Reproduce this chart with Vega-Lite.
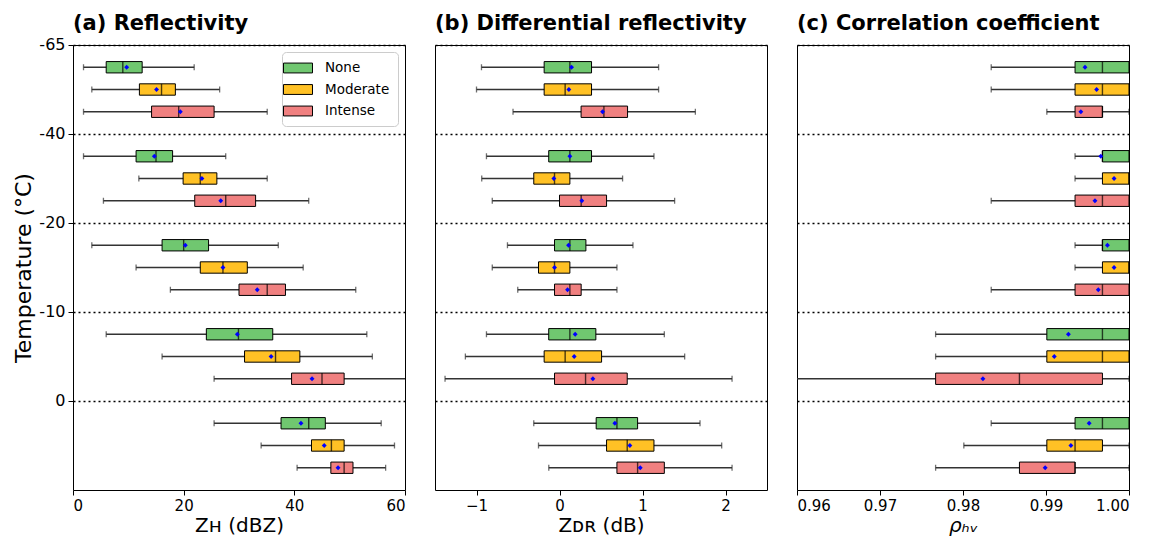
{
  "$schema": "https://vega.github.io/schema/vega-lite/v6.json",
  "padding": {"left": 12, "top": 12, "right": 13, "bottom": 3},
  "config": {
    "font": "DejaVu Sans",
    "view": {"stroke": "black", "strokeWidth": 1},
    "title": {"anchor": "start", "frame": "group", "fontSize": 21, "fontWeight": "bold", "offset": 11, "color": "black"},
    "axis": {"labelFontSize": 15, "titleFontSize": 20, "titleFontWeight": "normal", "labelColor": "black", "titleColor": "black", "tickColor": "black", "tickSize": 5, "domain": false, "labelPadding": 3},
    "axisX": {"titlePadding": 2}
  },
  "datasets": {
    "boxes": [
      {"temp": "-65", "cls": "None", "zh_lo": 1.9, "zh_q1": 6.0, "zh_med": 9.0, "zh_q3": 12.5, "zh_hi": 21.9, "zh_mean": 9.7, "zdr_lo": -0.94, "zdr_q1": -0.185, "zdr_med": 0.125, "zdr_q3": 0.386, "zdr_hi": 1.194, "zdr_mean": 0.145, "rho_lo": 0.9834, "rho_q1": 0.9935, "rho_med": 0.9968, "rho_q3": 1.0, "rho_hi": 1.0, "rho_mean": 0.9947},
      {"temp": "-65", "cls": "Moderate", "zh_lo": 3.4, "zh_q1": 12.0, "zh_med": 16.0, "zh_q3": 18.5, "zh_hi": 26.5, "zh_mean": 15.1, "zdr_lo": -1.0, "zdr_q1": -0.185, "zdr_med": 0.068, "zdr_q3": 0.386, "zdr_hi": 1.194, "zdr_mean": 0.113, "rho_lo": 0.9834, "rho_q1": 0.9935, "rho_med": 0.9968, "rho_q3": 1.0, "rho_hi": 1.0, "rho_mean": 0.9961},
      {"temp": "-65", "cls": "Intense", "zh_lo": 1.9, "zh_q1": 14.2, "zh_med": 19.1, "zh_q3": 25.5, "zh_hi": 35.1, "zh_mean": 19.4, "zdr_lo": -0.56, "zdr_q1": 0.26, "zdr_med": 0.535, "zdr_q3": 0.82, "zdr_hi": 1.637, "zdr_mean": 0.519, "rho_lo": 0.9901, "rho_q1": 0.9935, "rho_med": 0.9968, "rho_q3": 0.9968, "rho_hi": 1.0, "rho_mean": 0.9942},
      {"temp": "-40", "cls": "None", "zh_lo": 1.9, "zh_q1": 11.4, "zh_med": 15.0, "zh_q3": 18.0, "zh_hi": 27.6, "zh_mean": 14.7, "zdr_lo": -0.88, "zdr_q1": -0.13, "zdr_med": 0.125, "zdr_q3": 0.386, "zdr_hi": 1.138, "zdr_mean": 0.125, "rho_lo": 0.9935, "rho_q1": 0.9968, "rho_med": 0.9968, "rho_q3": 1.0, "rho_hi": 1.0, "rho_mean": 0.9966},
      {"temp": "-40", "cls": "Moderate", "zh_lo": 11.9, "zh_q1": 19.9, "zh_med": 23.0, "zh_q3": 26.0, "zh_hi": 35.1, "zh_mean": 23.3, "zdr_lo": -0.937, "zdr_q1": -0.31, "zdr_med": -0.06, "zdr_q3": 0.125, "zdr_hi": 0.76, "zdr_mean": -0.068, "rho_lo": 0.9935, "rho_q1": 0.9968, "rho_med": 1.0, "rho_q3": 1.0, "rho_hi": 1.0, "rho_mean": 0.9982},
      {"temp": "-40", "cls": "Intense", "zh_lo": 5.5, "zh_q1": 22.0, "zh_med": 27.6, "zh_q3": 33.0, "zh_hi": 42.6, "zh_mean": 26.7, "zdr_lo": -0.81, "zdr_q1": 0.0, "zdr_med": 0.261, "zdr_q3": 0.567, "zdr_hi": 1.387, "zdr_mean": 0.269, "rho_lo": 0.9834, "rho_q1": 0.9935, "rho_med": 0.9968, "rho_q3": 1.0, "rho_hi": 1.0, "rho_mean": 0.9959},
      {"temp": "-20", "cls": "None", "zh_lo": 3.4, "zh_q1": 16.1, "zh_med": 20.0, "zh_q3": 24.5, "zh_hi": 37.1, "zh_mean": 20.3, "zdr_lo": -0.627, "zdr_q1": -0.06, "zdr_med": 0.125, "zdr_q3": 0.318, "zdr_hi": 0.885, "zdr_mean": 0.109, "rho_lo": 0.9935, "rho_q1": 0.9968, "rho_med": 0.9968, "rho_q3": 1.0, "rho_hi": 1.0, "rho_mean": 0.9974},
      {"temp": "-20", "cls": "Moderate", "zh_lo": 11.4, "zh_q1": 23.0, "zh_med": 27.1, "zh_q3": 31.5, "zh_hi": 41.6, "zh_mean": 27.1, "zdr_lo": -0.81, "zdr_q1": -0.253, "zdr_med": -0.06, "zdr_q3": 0.125, "zdr_hi": 0.692, "zdr_mean": -0.06, "rho_lo": 0.9935, "rho_q1": 0.9968, "rho_med": 1.0, "rho_q3": 1.0, "rho_hi": 1.0, "rho_mean": 0.9982},
      {"temp": "-20", "cls": "Intense", "zh_lo": 17.6, "zh_q1": 30.0, "zh_med": 35.1, "zh_q3": 38.4, "zh_hi": 51.1, "zh_mean": 33.3, "zdr_lo": -0.503, "zdr_q1": -0.06, "zdr_med": 0.125, "zdr_q3": 0.261, "zdr_hi": 0.692, "zdr_mean": 0.097, "rho_lo": 0.9834, "rho_q1": 0.9935, "rho_med": 0.9968, "rho_q3": 1.0, "rho_hi": 1.0, "rho_mean": 0.9963},
      {"temp": "-10", "cls": "None", "zh_lo": 6.0, "zh_q1": 24.1, "zh_med": 29.9, "zh_q3": 36.1, "zh_hi": 53.1, "zh_mean": 29.7, "zdr_lo": -0.88, "zdr_q1": -0.13, "zdr_med": 0.125, "zdr_q3": 0.438, "zdr_hi": 1.263, "zdr_mean": 0.189, "rho_lo": 0.9767, "rho_q1": 0.9901, "rho_med": 0.9968, "rho_q3": 1.0, "rho_hi": 1.0, "rho_mean": 0.9927},
      {"temp": "-10", "cls": "Moderate", "zh_lo": 16.1, "zh_q1": 31.0, "zh_med": 36.6, "zh_q3": 41.0, "zh_hi": 54.1, "zh_mean": 35.8, "zdr_lo": -1.134, "zdr_q1": -0.185, "zdr_med": 0.068, "zdr_q3": 0.507, "zdr_hi": 1.508, "zdr_mean": 0.177, "rho_lo": 0.9767, "rho_q1": 0.9901, "rho_med": 0.9968, "rho_q3": 1.0, "rho_hi": 1.0, "rho_mean": 0.991},
      {"temp": "-10", "cls": "Intense", "zh_lo": 25.5, "zh_q1": 39.5, "zh_med": 45.0, "zh_q3": 49.0, "zh_hi": 63.0, "zh_mean": 43.2, "zdr_lo": -1.379, "zdr_q1": -0.06, "zdr_med": 0.314, "zdr_q3": 0.816, "zdr_hi": 2.079, "zdr_mean": 0.402, "rho_lo": 0.955, "rho_q1": 0.9767, "rho_med": 0.9868, "rho_q3": 0.9968, "rho_hi": 1.0, "rho_mean": 0.9824},
      {"temp": "0", "cls": "None", "zh_lo": 25.5, "zh_q1": 37.6, "zh_med": 42.6, "zh_q3": 45.6, "zh_hi": 55.7, "zh_mean": 41.2, "zdr_lo": -0.31, "zdr_q1": 0.442, "zdr_med": 0.692, "zdr_q3": 0.941, "zdr_hi": 1.693, "zdr_mean": 0.667, "rho_lo": 0.9834, "rho_q1": 0.9935, "rho_med": 0.9968, "rho_q3": 1.0, "rho_hi": 1.0, "rho_mean": 0.9952},
      {"temp": "0", "cls": "Moderate", "zh_lo": 34.0, "zh_q1": 43.1, "zh_med": 46.7, "zh_q3": 49.0, "zh_hi": 58.1, "zh_mean": 45.4, "zdr_lo": -0.253, "zdr_q1": 0.567, "zdr_med": 0.816, "zdr_q3": 1.138, "zdr_hi": 1.954, "zdr_mean": 0.848, "rho_lo": 0.9801, "rho_q1": 0.9901, "rho_med": 0.9935, "rho_q3": 0.9968, "rho_hi": 1.0, "rho_mean": 0.993},
      {"temp": "0", "cls": "Intense", "zh_lo": 40.5, "zh_q1": 46.6, "zh_med": 49.0, "zh_q3": 50.6, "zh_hi": 56.5, "zh_mean": 47.9, "zdr_lo": -0.129, "zdr_q1": 0.692, "zdr_med": 0.941, "zdr_q3": 1.263, "zdr_hi": 2.079, "zdr_mean": 0.973, "rho_lo": 0.9767, "rho_q1": 0.9868, "rho_med": 0.9935, "rho_q3": 0.9935, "rho_hi": 1.0, "rho_mean": 0.9899}
    ]
  },
  "data": {"name": "boxes"},
  "spacing": 28,
  "resolve": {"scale": {"color": "independent"}},
  "hconcat": [
    {
      "width": 332, "height": 445,
      "title": {"text": "(a) Reflectivity", "offset": 3},
      "encoding": {
        "y": {"field": "temp", "type": "ordinal", "scale": {"domain": ["-65", "-40", "-20", "-10", "0"], "paddingInner": 0, "paddingOuter": 0},
              "axis": {"title": "Temperature (°C)", "bandPosition": 0, "labelOffset": -44.5, "grid": true, "gridDash": [2, 3], "gridColor": "black", "gridWidth": 1.3, "gridOpacity": 1, "labelFontSize": 16, "titleFontSize": 22, "labelAngle": 0, "titlePadding": 3}},
        "yOffset": {"field": "cls", "type": "nominal", "scale": {"domain": ["None", "Moderate", "Intense"], "paddingInner": 0.49, "paddingOuter": 0.745}}
      },
      "layer": [
        {"mark": {"type": "rule", "color": "#333333", "strokeWidth": 1.3, "clip": true},
         "encoding": {"x": {"field": "zh_lo", "type": "quantitative", "scale": {"domain": [0, 60], "nice": false}, "axis": {"title": "Zʜ (dBZ)", "values": [0, 20, 40, 60], "grid": false}}, "x2": {"field": "zh_hi"}}},
        {"mark": {"type": "tick", "color": "#333333", "size": 6, "thickness": 1.3, "clip": true},
         "encoding": {"x": {"field": "zh_lo", "type": "quantitative"}}},
        {"mark": {"type": "tick", "color": "#333333", "size": 6, "thickness": 1.3, "clip": true},
         "encoding": {"x": {"field": "zh_hi", "type": "quantitative"}}},
        {"mark": {"type": "bar", "stroke": "black", "strokeWidth": 1, "opacity": 1, "clip": true},
         "encoding": {"x": {"field": "zh_q1", "type": "quantitative"}, "x2": {"field": "zh_q3"},
                      "color": {"field": "cls", "type": "nominal", "scale": {"domain": ["None", "Moderate", "Intense"], "range": ["#70c770", "#ffc125", "#f08080"]},
                                "legend": {"title": null, "orient": "top-right", "offset": 7, "symbolType": "M-2,-0.68H2V0.68H-2Z", "symbolSize": 210, "symbolStrokeColor": "black", "symbolStrokeWidth": 1, "symbolOpacity": 1, "labelFontSize": 13.5, "labelOffset": 19, "labelColor": "black", "rowPadding": 6.5, "padding": 8, "strokeColor": "#cccccc", "fillColor": "white", "cornerRadius": 4}}}},
        {"mark": {"type": "tick", "color": "black", "size": 11.3, "thickness": 1.4, "clip": true},
         "encoding": {"x": {"field": "zh_med", "type": "quantitative"}}},
        {"mark": {"type": "point", "shape": "diamond", "filled": true, "color": "#0000ff", "size": 24, "opacity": 1, "clip": true},
         "encoding": {"x": {"field": "zh_mean", "type": "quantitative"}}}
      ]
    },
    {
      "width": 332, "height": 445,
      "title": "(b) Differential reflectivity",
      "encoding": {
        "y": {"field": "temp", "type": "ordinal", "scale": {"domain": ["-65", "-40", "-20", "-10", "0"], "paddingInner": 0, "paddingOuter": 0},
              "axis": {"title": null, "labels": false, "ticks": false, "bandPosition": 0, "grid": true, "gridDash": [2, 3], "gridColor": "black", "gridWidth": 1.3, "gridOpacity": 1}},
        "yOffset": {"field": "cls", "type": "nominal", "scale": {"domain": ["None", "Moderate", "Intense"], "paddingInner": 0.49, "paddingOuter": 0.745}}
      },
      "layer": [
        {"mark": {"type": "rule", "color": "#333333", "strokeWidth": 1.3, "clip": true},
         "encoding": {"x": {"field": "zdr_lo", "type": "quantitative", "scale": {"domain": [-1.5, 2.5], "nice": false}, "axis": {"title": "Zᴅʀ (dB)", "values": [-1, 0, 1, 2], "format": "d", "grid": false}}, "x2": {"field": "zdr_hi"}}},
        {"mark": {"type": "tick", "color": "#333333", "size": 6, "thickness": 1.3, "clip": true},
         "encoding": {"x": {"field": "zdr_lo", "type": "quantitative"}}},
        {"mark": {"type": "tick", "color": "#333333", "size": 6, "thickness": 1.3, "clip": true},
         "encoding": {"x": {"field": "zdr_hi", "type": "quantitative"}}},
        {"mark": {"type": "bar", "stroke": "black", "strokeWidth": 1, "opacity": 1, "clip": true},
         "encoding": {"x": {"field": "zdr_q1", "type": "quantitative"}, "x2": {"field": "zdr_q3"},
                      "color": {"field": "cls", "type": "nominal", "scale": {"domain": ["None", "Moderate", "Intense"], "range": ["#70c770", "#ffc125", "#f08080"]}, "legend": null}}},
        {"mark": {"type": "tick", "color": "black", "size": 11.3, "thickness": 1.4, "clip": true},
         "encoding": {"x": {"field": "zdr_med", "type": "quantitative"}}},
        {"mark": {"type": "point", "shape": "diamond", "filled": true, "color": "#0000ff", "size": 24, "opacity": 1, "clip": true},
         "encoding": {"x": {"field": "zdr_mean", "type": "quantitative"}}}
      ]
    },
    {
      "width": 332, "height": 445,
      "title": "(c) Correlation coefficient",
      "encoding": {
        "y": {"field": "temp", "type": "ordinal", "scale": {"domain": ["-65", "-40", "-20", "-10", "0"], "paddingInner": 0, "paddingOuter": 0},
              "axis": {"title": null, "labels": false, "ticks": false, "bandPosition": 0, "grid": true, "gridDash": [2, 3], "gridColor": "black", "gridWidth": 1.3, "gridOpacity": 1}},
        "yOffset": {"field": "cls", "type": "nominal", "scale": {"domain": ["None", "Moderate", "Intense"], "paddingInner": 0.49, "paddingOuter": 0.745}}
      },
      "layer": [
        {"mark": {"type": "rule", "color": "#333333", "strokeWidth": 1.3, "clip": true},
         "encoding": {"x": {"field": "rho_lo", "type": "quantitative", "scale": {"domain": [0.96, 1.0], "nice": false, "zero": false}, "axis": {"title": "ρₕᵥ", "values": [0.96, 0.97, 0.98, 0.99, 1.0], "format": ".2f", "grid": false, "titleFontStyle": "italic"}}, "x2": {"field": "rho_hi"}}},
        {"mark": {"type": "tick", "color": "#333333", "size": 6, "thickness": 1.3, "clip": true},
         "encoding": {"x": {"field": "rho_lo", "type": "quantitative"}}},
        {"mark": {"type": "tick", "color": "#333333", "size": 6, "thickness": 1.3, "clip": true},
         "encoding": {"x": {"field": "rho_hi", "type": "quantitative"}}},
        {"mark": {"type": "bar", "stroke": "black", "strokeWidth": 1, "opacity": 1, "clip": true},
         "encoding": {"x": {"field": "rho_q1", "type": "quantitative"}, "x2": {"field": "rho_q3"},
                      "color": {"field": "cls", "type": "nominal", "scale": {"domain": ["None", "Moderate", "Intense"], "range": ["#70c770", "#ffc125", "#f08080"]}, "legend": null}}},
        {"mark": {"type": "tick", "color": "black", "size": 11.3, "thickness": 1.4, "clip": true},
         "encoding": {"x": {"field": "rho_med", "type": "quantitative"}}},
        {"mark": {"type": "point", "shape": "diamond", "filled": true, "color": "#0000ff", "size": 24, "opacity": 1, "clip": true},
         "encoding": {"x": {"field": "rho_mean", "type": "quantitative"}}}
      ]
    }
  ]
}
